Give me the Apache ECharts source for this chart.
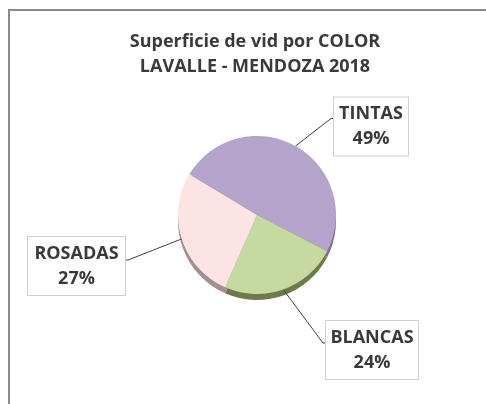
<!DOCTYPE html>
<html><head><meta charset="utf-8">
<script src="https://cdn.jsdelivr.net/npm/echarts@6/dist/echarts.min.js"></script>
<style>html,body{margin:0;padding:0;background:#fff}#c{width:486px;height:404px}</style>
</head><body><div id="c"></div>
<script>
// ---- data ----
const categories = ['TINTAS', 'BLANCAS', 'ROSADAS'];
const values = [49, 24, 27];
const titleLines = ['Superficie de vid por COLOR', 'LAVALLE - MENDOZA 2018'];

// ---- styles / layout ----
const FONT = '"Open Sans", Lato, sans-serif';
const topColors = ['#b4a3ca', '#c6d9a0', '#fce4e4'];
const sideColors = ['#7f6f93', '#6d7b4a', '#a38f8f'];
const labelBoxes = [
  { cx: 371, cy: 126.5, w: 66, side: 1, dy: -8 },
  { cx: 372, cy: 350, w: 84, side: 1, dy: -7 },
  { cx: 76.5, cy: 266, w: 89, side: -1, dy: -6 }
];
const PIE_CENTER = [257, 215];
const PIE_R = 79;
const DEPTH = 6;

const chart = echarts.init(document.getElementById('c'), null, { renderer: 'canvas' });

const topData = categories.map((c, i) => ({
  name: c, value: values[i],
  itemStyle: { color: topColors[i] },
  label: { width: labelBoxes[i].w }
}));
const sideData = categories.map((c, i) => ({
  name: c, value: values[i],
  itemStyle: { color: sideColors[i] }
}));

chart.setOption({
  animation: false,
  backgroundColor: '#fff',
  title: {
    text: titleLines.join('\n'),
    left: 250, top: 24, textAlign: 'center',
    textStyle: { fontFamily: FONT, fontWeight: 'bold', fontSize: 18, lineHeight: 25, color: '#3a3a3a' }
  },
  graphic: [
    { type: 'line', shape: { x1: 9, y1: 10, x2: 486, y2: 10 }, style: { stroke: '#8c8c8c', lineWidth: 2 } },
    { type: 'line', shape: { x1: 9, y1: 9, x2: 9, y2: 404 }, style: { stroke: '#8c8c8c', lineWidth: 2 } }
  ],
  series: [
    {
      type: 'pie', silent: true, z: 1,
      center: [PIE_CENTER[0], PIE_CENTER[1] + DEPTH], radius: PIE_R,
      startAngle: 149, clockwise: true,
      label: { show: false }, labelLine: { show: false },
      itemStyle: { borderWidth: 0 },
      data: sideData
    },
    {
      type: 'pie', silent: true, z: 2,
      center: PIE_CENTER, radius: PIE_R,
      startAngle: 149, clockwise: true, percentPrecision: 0,
      itemStyle: { borderWidth: 0 },
      label: {
        show: true, position: 'outside',
        formatter: '{b}\n{d}%',
        fontFamily: FONT, fontWeight: 'bold', fontSize: 18, lineHeight: 25,
        color: '#3a3a3a', align: 'center', overflow: 'none',
        backgroundColor: '#fff', borderColor: '#d0d0d0', borderWidth: 1,
        padding: [4, 4]
      },
      labelLine: { show: true, length: 15, length2: 10, lineStyle: { color: '#404040', width: 1 } },
      labelLayout: function (p) {
        const b = labelBoxes[p.dataIndex];
        const w = b.w + 8;
        const left = b.cx - w / 2, right = b.cx + w / 2;
        const edgeX = b.side > 0 ? left : right;
        const ly = b.cy + b.dy;
        const res = { x: b.cx, y: b.cy, align: 'center', verticalAlign: 'middle' };
        if (p.labelLinePoints && p.labelLinePoints[0]) {
          res.labelLinePoints = [p.labelLinePoints[0], [edgeX - b.side * 3, ly], [edgeX, ly]];
        }
        return res;
      },
      data: topData
    }
  ]
});
</script>
</body></html>
